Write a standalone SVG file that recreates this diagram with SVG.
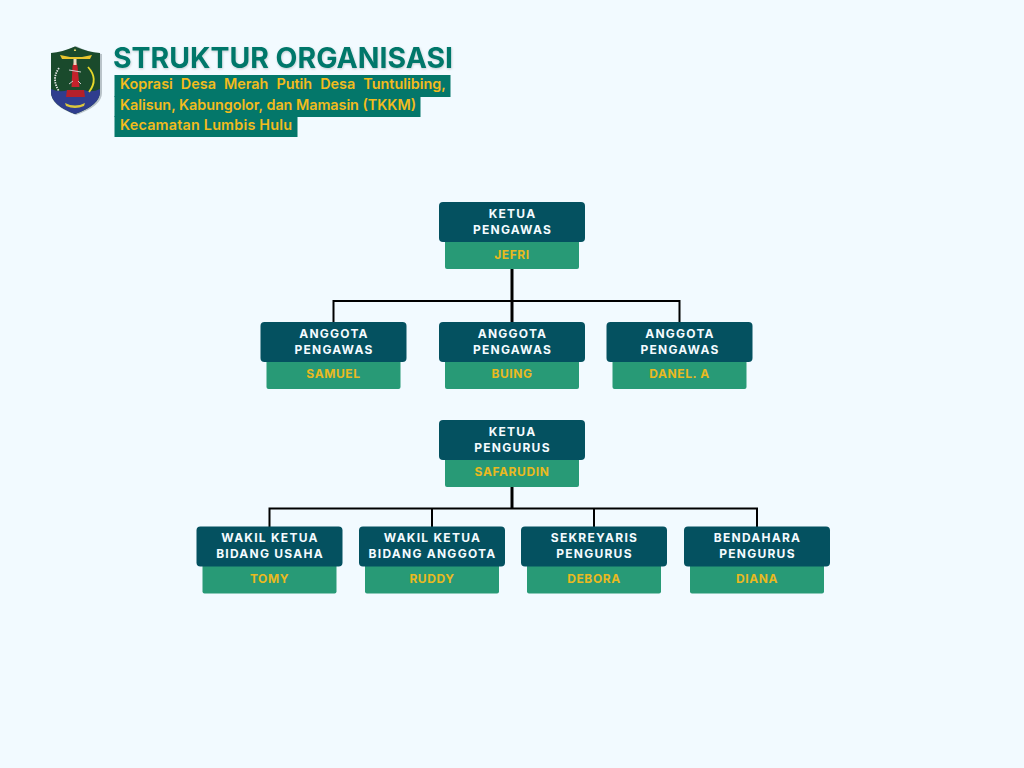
<svg xmlns="http://www.w3.org/2000/svg" width="1024" height="768" viewBox="0 0 1024 768">
<style>
.t{fill:#045160}
.b{fill:#289a76}
.tt{font-family:Inter,"Liberation Sans",sans-serif;font-size:12px;font-weight:700;fill:#f4fbff;letter-spacing:1.25px;text-anchor:middle}
.bt{font-family:Inter,"Liberation Sans",sans-serif;font-size:12px;font-weight:700;fill:#eab91f;letter-spacing:.6px;text-anchor:middle}
.sub{font-family:Inter,"Liberation Sans",sans-serif;font-size:14.400px;font-weight:600;fill:#f3bb1c}
.st{fill:#04776a}
.c{fill:none;stroke:#000;stroke-width:2}
.k{stroke-width:3}
</style>
<defs>
<filter id="sh" x="-5%" y="-20%" width="110%" height="140%"><feDropShadow dx="0.500" dy="1" stdDeviation="1.200" flood-color="#000" flood-opacity=".2"/></filter>
<g id="box">
<rect class="b" x="-67" y="30" width="134" height="37" rx="2"/>
<rect class="t" x="-73" y="0" width="146" height="40" rx="4"/>
</g>
</defs>
<rect width="1024" height="768" fill="#f2faff"/>
<g id="logo">
<path d="M51 54Q62 53 76 46Q90 53 102 54V93Q102 106 76 115Q51 106 51 93Z" fill="#8a959c" opacity=".55"/>
<path d="M51 53Q62 52 75 46.500Q88 52 100 53V92Q100 105 75 114Q51 105 51 92Z" fill="#1a4a2c"/>
<path d="M51 89Q60 93 68 90H84Q92 93 100 89V92Q100 105 75 114Q51 105 51 92Z" fill="#2f3d8e"/>
<path d="M60 55L70 57H82L92 55L90 59H62Z" fill="#e9c62e"/>
<path d="M75 48.500l1.200 2.600h-2.400z" fill="#f2e06b"/>
<path d="M88 67Q99 79 89 92" fill="none" stroke="#e7d82a" stroke-width="1.800"/>
<path d="M59 68Q51 79 59 91" fill="none" stroke="#e6e6e6" stroke-width="1.800" stroke-dasharray="1.500 1"/>
<path d="M71.500 87L72.500 66Q75 58 77.500 66L79.500 87Z" fill="#c4222b"/>
<rect x="73.500" y="59" width="3" height="6" fill="#ecdcc0"/>
<path d="M69 70L81 72M69 84L73 81M81 84L78 81" stroke="#ccc" stroke-width="1" fill="none"/>
<path d="M67 90H84L85 97H66Z" fill="#b4202a"/>
<path d="M65 103Q75 108 85 103L84 106Q75 110 66 106Z" fill="#dcc73c"/>
</g>
<g id="header">
<text x="113" y="68" font-family="Inter,'Liberation Sans',sans-serif" font-size="28.500" font-weight="700" fill="#04776a" filter="url(#sh)" textLength="340" lengthAdjust="spacingAndGlyphs">STRUKTUR ORGANISASI</text>
<rect class="st" x="114.500" y="75" width="336" height="22"/>
<rect class="st" x="114.500" y="96" width="306" height="21"/>
<rect class="st" x="114.500" y="116" width="183" height="21"/>
<text class="sub" x="120" y="89" word-spacing="4.400">Koprasi Desa Merah Putih Desa Tuntulibing,</text>
<text class="sub" x="120" y="110" textLength="296">Kalisun, Kabungolor, dan Mamasin (TKKM)</text>
<text class="sub" x="120" y="130" textLength="172">Kecamatan Lumbis Hulu</text>
</g>
<g id="connectors">
<path class="c" d="M333.500 322V301H679.500V322"/>
<path class="c k" d="M512 269V322"/>
<path class="c" d="M269.500 527V508.500H757V527M432 508.500V527M594 508.500V527"/>
<path class="c k" d="M512 487V508.500"/>
</g>
<g id="n1" transform="translate(512,202)"><use href="#box"/><text class="tt" x="0.500" y="16">KETUA</text><text class="tt" x="0.500" y="32">PENGAWAS</text><text class="bt" y="57">JEFRI</text></g>
<g id="n2" transform="translate(333.500,322)"><use href="#box"/><text class="tt" x="0.500" y="16">ANGGOTA</text><text class="tt" x="0.500" y="32">PENGAWAS</text><text class="bt" y="56">SAMUEL</text></g>
<g id="n3" transform="translate(512,322)"><use href="#box"/><text class="tt" x="0.500" y="16">ANGGOTA</text><text class="tt" x="0.500" y="32">PENGAWAS</text><text class="bt" y="56">BUING</text></g>
<g id="n4" transform="translate(679.500,322)"><use href="#box"/><text class="tt" x="0.500" y="16">ANGGOTA</text><text class="tt" x="0.500" y="32">PENGAWAS</text><text class="bt" y="56">DANEL. A</text></g>
<g id="n5" transform="translate(512,420)"><use href="#box"/><text class="tt" x="0.500" y="16">KETUA</text><text class="tt" x="0.500" y="32">PENGURUS</text><text class="bt" y="56">SAFARUDIN</text></g>
<g id="n6" transform="translate(269.500,526.500)"><use href="#box"/><text class="tt" x="0.500" y="15.500">WAKIL KETUA</text><text class="tt" x="0.500" y="31.500">BIDANG USAHA</text><text class="bt" y="56.500">TOMY</text></g>
<g id="n7" transform="translate(432,526.500)"><use href="#box"/><text class="tt" x="0.500" y="15.500">WAKIL KETUA</text><text class="tt" x="0.500" y="31.500">BIDANG ANGGOTA</text><text class="bt" y="56.500">RUDDY</text></g>
<g id="n8" transform="translate(594,526.500)"><use href="#box"/><text class="tt" x="0.500" y="15.500">SEKREYARIS</text><text class="tt" x="0.500" y="31.500">PENGURUS</text><text class="bt" y="56.500">DEBORA</text></g>
<g id="n9" transform="translate(757,526.500)"><use href="#box"/><text class="tt" x="0.500" y="15.500">BENDAHARA</text><text class="tt" x="0.500" y="31.500">PENGURUS</text><text class="bt" y="56.500">DIANA</text></g>
</svg>
